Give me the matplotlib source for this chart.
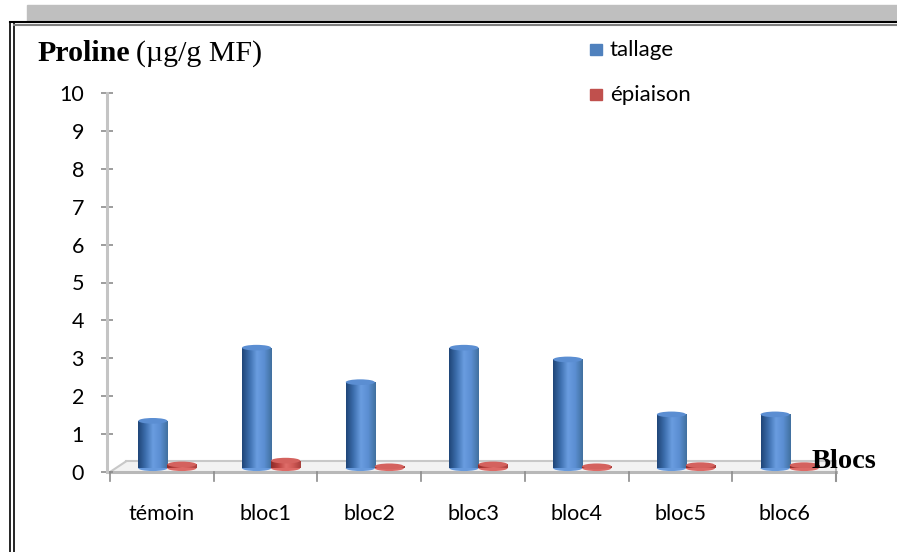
import numpy as np
import matplotlib
matplotlib.use("Agg")
import matplotlib.pyplot as plt
from matplotlib.patches import Rectangle, Ellipse
from matplotlib.lines import Line2D
from matplotlib.colors import LinearSegmentedColormap

W, H = 897, 552

categories = ["témoin", "bloc1", "bloc2", "bloc3", "bloc4", "bloc5", "bloc6"]
tallage = [1.25, 3.18, 2.27, 3.18, 2.87, 1.42, 1.42]
epiaison = [0.1, 0.2, 0.05, 0.1, 0.05, 0.08, 0.08]
yticks = list(range(0, 11))

FLOOR = 0.1       # bars sit slightly above the front edge (fake 3D floor)
BAR_W = 0.28
CAP_H = 0.15

blue_cmap = LinearSegmentedColormap.from_list(
    "blue_cyl", ["#1f4678", "#3d6fae", "#6a9de0", "#5b8ed2", "#41709f"])
red_cmap = LinearSegmentedColormap.from_list(
    "red_cyl", ["#8e2c2a", "#b9403d", "#e06e6a", "#cf5955", "#a8403d"])


def px(x, y):
    # pixel coords (top-left origin) -> figure fraction
    return x / W, 1 - y / H


fig = plt.figure(figsize=(W / 100, H / 100), dpi=100)
fig.patch.set_facecolor("white")

# gray band and frame lines
fig.patches.append(Rectangle(px(27, 21), (W - 27) / W, 16 / H,
                             transform=fig.transFigure, color="#bfbfbf", zorder=0))
for x in (10, 14):
    fig.add_artist(Line2D([x / W, x / W], [0, 1 - 22 / H], color="black", lw=1.2))
fig.add_artist(Line2D([10 / W, 1], [1 - 22 / H, 1 - 22 / H], color="black", lw=1.5))
fig.add_artist(Line2D([14 / W, 1], [1 - 24.5 / H, 1 - 24.5 / H], color="#7f7f7f", lw=1.5))

ax_left, ax_right = 107, 836
ax_top, ax_bottom = 93, 472
cat_w = (836 - 110) / 7
ax = fig.add_axes([ax_left / W, 1 - ax_bottom / H,
                   (ax_right - ax_left) / W, (ax_bottom - ax_top) / H])
ax.set_facecolor("none")
xlim = (-0.5 - 3 / cat_w, 6.5)

for s in ("top", "right", "bottom"):
    ax.spines[s].set_visible(False)
ax.spines["left"].set_color("#c4c4c4")
ax.spines["left"].set_linewidth(2.2)
ax.set_yticks(yticks)
ax.tick_params(axis="y", direction="inout", length=9, width=1.2, color="#8c8c8c",
               pad=12, labelsize=15.5, labelfontfamily="Lato")
ax.set_xticks(range(len(categories)))
ax.set_xticklabels(categories)
ax.tick_params(axis="x", length=0, pad=23, labelsize=15.5, labelfontfamily="Lato")

# fake 3D floor
back = 0.28
dx = 16 / cat_w
ax.fill([-0.5, 6.5, 6.5, -0.5 + dx], [0, 0, back, back], color="#f2f2f2", zorder=1)
ax.plot([-0.5 + dx, 6.5], [back, back], color="#c8c8c8", lw=1.5, zorder=1)
ax.plot([-0.5, -0.5 + dx], [0, back], color="#c8c8c8", lw=1.5, zorder=1)
ax.plot([-0.5, 6.5], [0, 0], color="#b8b8b8", lw=2.2, zorder=1, clip_on=False)
ax.plot([6.5, 6.5], [-0.24, back], color="#b8b8b8", lw=1.5, zorder=1, clip_on=False)
for b in np.arange(-0.5, 6.6, 1.0):
    ax.plot([b, b], [0, -0.24], color="#8c8c8c", lw=1.2, clip_on=False, zorder=1)


def cylinder(xc, val, cmap, cap_color):
    x0 = xc - BAR_W / 2
    rect = Rectangle((x0, FLOOR), BAR_W, val, facecolor="none", edgecolor="none")
    ax.add_patch(rect)
    grad = np.linspace(0, 1, 64).reshape(1, -1)
    im = ax.imshow(grad, cmap=cmap, aspect="auto", zorder=3,
                   extent=(x0, x0 + BAR_W, FLOOR, FLOOR + val))
    im.set_clip_path(rect)
    ax.add_patch(Ellipse((xc, FLOOR), BAR_W, CAP_H, facecolor=cmap(0.55),
                         edgecolor="none", zorder=2.9))
    ax.add_patch(Ellipse((xc, FLOOR + val), BAR_W, CAP_H, facecolor=cap_color,
                         edgecolor="none", zorder=3.1))


x = np.arange(len(categories))
for i in x:
    cylinder(i - 0.087, tallage[i], blue_cmap, "#5b8ed2")
    cylinder(i + 0.193, epiaison[i], red_cmap, "#d4625e")

ax.set_xlim(*xlim)
ax.set_ylim(0, 10)

# title (bold + regular parts)
t1 = fig.text(37 / W, 1 - 61 / H, "Proline", family="Liberation Serif",
              weight="bold", fontsize=21.5, va="baseline")
fig.canvas.draw()
bb = t1.get_window_extent(fig.canvas.get_renderer())
fig.text(bb.x1 / W + 6 / W, 1 - 61 / H, "(µg/g MF)", family="Liberation Serif",
         fontsize=21.5, va="baseline")

fig.text(812 / W, 1 - 468 / H, "Blocs", family="Liberation Serif",
         weight="bold", fontsize=20.5, va="baseline")

# legend
legend_items = [("tallage", "#4f81bd", 50), ("épiaison", "#c0504d", 95)]
for label, color, yc in legend_items:
    fig.patches.append(Rectangle(px(590, yc + 5), 12 / W, 11 / H,
                                 transform=fig.transFigure, color=color))
    fig.text(610 / W, 1 - yc / H, label, family="Lato", fontsize=16, va="center")

fig.savefig("out.png", dpi=100)
